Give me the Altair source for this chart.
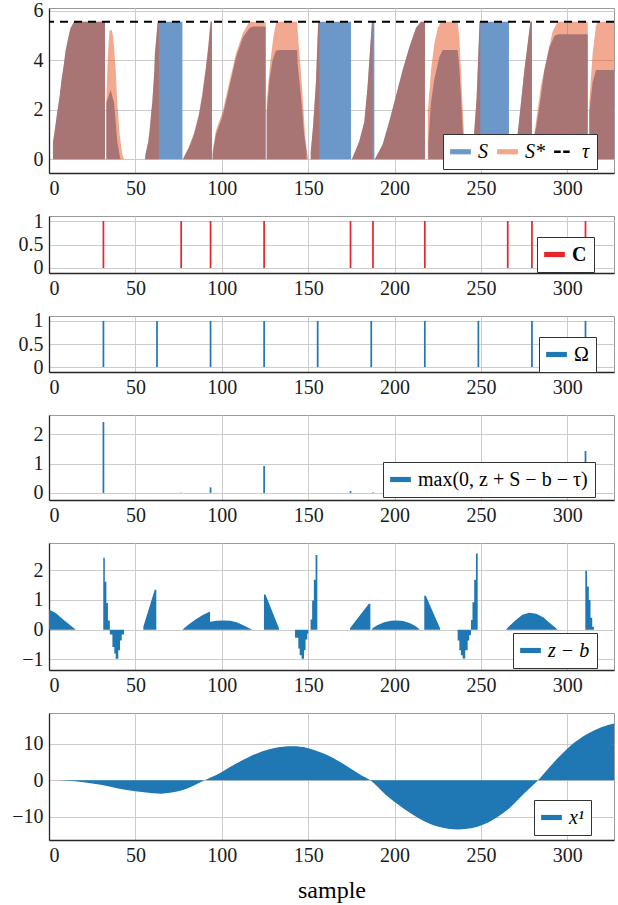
import altair as alt
import pandas as pd

FONT = "Liberation Serif"
X_MAX = 327.0
X_TICKS = [0, 50, 100, 150, 200, 250, 300]
TAU = [5.56]

BLUE_S = "#6b97c9"
SALMON = "#f3a68a"
ORANGE = "#e8531f"
TAB_BLUE = "#1f77b4"
RED = "#e6262b"

RECT = "M-1,-0.25H1V0.25H-1Z"
DASH = "M-1,-0.11H-0.37V0.11H-1Z M-0.13,-0.11H0.5V0.11H-0.13Z"

# ---- panel 1 : S and S* ----
S_POINTS = [
    (0, 0), (2.3, 0), (2.3, 0.67), (3.5, 1.25), (4.8, 1.91), (6.2, 2.56), (7.3, 3.22), (8.7, 3.87),
    (9.6, 4.39), (11.2, 4.92), (12.5, 5.31), (14.5, 5.56), (32.4, 5.56), (32.4, 0),
    (33.2, 0), (33.2, 2.3), (35.7, 2.8), (37.6, 2.3), (38.6, 1.52), (39.5, 0.73), (40.9, 0.14), (41.5, 0),
    (55.6, 0), (55.9, 0.21), (57.5, 0.73), (58.4, 1.26), (59.2, 1.91), (59.8, 2.3), (61.0, 3.61),
    (61.3, 4.26), (62.9, 5.56), (77.2, 5.56), (77.2, 0),
    (77.6, 0), (78.1, 0.08), (81.0, 0.47), (83.9, 0.99), (86.8, 1.78), (88.7, 2.56), (90.7, 3.61),
    (92.2, 4.52), (93.6, 5.56), (94.3, 5.56), (94.3, 0),
    (94.7, 0), (94.7, 0.2), (96.6, 1.0), (100.6, 1.78), (104.5, 2.96), (108.3, 4.13), (112.2, 4.92),
    (116.1, 5.31), (118.0, 5.37), (125.4, 5.37), (125.4, 0),
    (126.0, 0), (126.0, 1.91), (127.6, 3.22), (129.4, 4.0), (131.3, 4.39), (133.3, 4.42), (143.6, 4.42),
    (143.9, 3.87), (145.8, 2.56), (147.7, 0.99), (149.1, 0.3), (149.1, 0),
    (151.5, 0), (151.5, 0.3), (152.9, 1.4), (154.5, 3.1), (155.8, 5.56), (174.8, 5.56), (174.8, 0),
    (175.3, 0), (176.5, 0.2), (179.6, 0.73), (182.5, 1.52), (184.4, 2.96), (185.4, 4.0), (186.3, 4.92),
    (186.9, 5.56), (188.3, 5.56), (188.3, 0),
    (188.6, 0), (189.2, 0.08), (193.1, 0.6), (196.9, 1.52), (200.8, 2.56), (204.7, 3.61), (208.5, 4.52),
    (212.4, 5.31), (215.3, 5.56), (217.6, 5.56), (217.6, 0),
    (219.5, 0), (219.5, 0.73), (221.1, 2.3), (223.0, 3.22), (225.9, 4.13), (227.8, 4.42), (236.5, 4.42),
    (237.5, 3.74), (238.4, 2.56), (239.4, 1.26), (240.4, 0.3), (240.4, 0),
    (245.5, 0), (245.5, 0.5), (247.5, 2.5), (249.2, 5.56), (266.2, 5.56), (266.2, 0),
    (270.3, 0), (270.3, 0.3), (271.2, 1.0), (273.2, 2.3), (275.1, 3.6), (277.0, 4.65), (278.6, 5.56),
    (279.5, 5.56), (279.5, 0),
    (280.9, 0), (280.9, 1.0), (281.9, 1.26), (284.7, 2.56), (286.7, 3.61), (289.6, 4.52), (292.5, 4.98),
    (294.4, 5.05), (311.8, 5.05), (311.8, 0),
    (312.7, 0), (312.7, 1.9), (314.6, 3.1), (316.6, 3.61), (330, 3.61),
]

S_STAR_POINTS = [
    (0, 0), (2.3, 0), (2.3, 0.67), (3.5, 1.25), (4.8, 1.91), (6.2, 2.56), (7.3, 3.22), (8.7, 3.87),
    (9.6, 4.39), (11.2, 4.92), (12.5, 5.31), (14.5, 5.56), (32.4, 5.56), (32.4, 0),
    (33.2, 0), (33.2, 2.4), (34.0, 4.1), (35.0, 5.2), (36.2, 5.24), (37.0, 5.0), (37.8, 4.4), (38.6, 3.6),
    (39.5, 2.3), (40.9, 1.0), (42.4, 0.21), (43.4, 0),
    (55.6, 0), (55.9, 0.21), (57.5, 0.73), (58.4, 1.26), (59.2, 1.91), (59.8, 2.3), (61.0, 3.61),
    (61.3, 4.26), (62.9, 5.56), (63.6, 5.56), (63.6, 0),
    (77.6, 0), (78.1, 0.1), (81.0, 0.52), (83.9, 1.05), (86.8, 1.85), (88.7, 2.65), (90.7, 3.7),
    (92.2, 4.6), (93.4, 5.56), (94.3, 5.56), (94.3, 0),
    (94.7, 0), (94.7, 0.35), (96.6, 1.15), (100.6, 1.95), (104.5, 3.15), (108.3, 4.3), (112.2, 5.1),
    (115.9, 5.56), (125.4, 5.56), (125.4, 0),
    (126.0, 0), (126.0, 2.3), (128.0, 3.9), (130.0, 5.0), (131.5, 5.56), (143.6, 5.56), (144.5, 4.66),
    (146.4, 2.96), (148.2, 1.0), (149.3, 0.3), (150.1, 0),
    (151.5, 0), (151.5, 0.3), (152.9, 1.4), (154.5, 3.1), (155.8, 5.56), (156.4, 5.56), (156.4, 0),
    (175.3, 0), (176.5, 0.2), (179.6, 0.73), (182.5, 1.52), (184.4, 2.96), (185.4, 4.0), (186.3, 4.92),
    (186.9, 5.56), (187.3, 5.56), (187.3, 0),
    (188.6, 0), (189.2, 0.08), (193.1, 0.6), (196.9, 1.52), (200.8, 2.56), (204.7, 3.61), (208.5, 4.52),
    (212.4, 5.31), (215.3, 5.56), (217.6, 5.56), (217.6, 0),
    (219.2, 0), (219.2, 1.9), (221.1, 3.6), (223.0, 4.66), (225.0, 5.31), (226.9, 5.56), (236.5, 5.56),
    (237.5, 4.9), (238.4, 3.6), (239.4, 2.1), (240.4, 0.73), (241.3, 0.2), (241.3, 0),
    (245.5, 0), (245.5, 0.5), (247.5, 2.5), (249.2, 5.56), (249.6, 5.56), (249.6, 0),
    (270.3, 0), (270.3, 0.3), (271.2, 1.0), (273.2, 2.3), (275.1, 3.6), (277.0, 4.65), (278.6, 5.56),
    (279.5, 5.56), (279.5, 0),
    (280.9, 0), (280.9, 1.0), (284.7, 2.96), (288.6, 4.26), (291.5, 5.18), (294.4, 5.56), (311.8, 5.56),
    (311.8, 0),
    (312.7, 0), (312.7, 2.3), (314.6, 4.26), (316.6, 5.4), (317.5, 5.56), (330, 5.56),
]
S_LEGEND = ["S", "S*", "τ"]

# ---- panels 2-4 : spikes ----
C_SAMPLES = [31, 76, 93, 124, 174, 187, 217, 265, 279, 310]
C_VALUES = [1, 1, 1, 1, 1, 1, 1, 1, 1, 1]
OMEGA_SAMPLES = [31, 62, 93, 124, 155, 186, 217, 248, 279, 310]
OMEGA_VALUES = [1, 1, 1, 1, 1, 1, 1, 1, 1, 1]
EXCESS_SAMPLES = [31, 76, 93, 124, 174, 187, 217, 310]
EXCESS_VALUES = [2.42, 0.01, 0.19, 0.92, 0.06, 0.01, 1.05, 1.43]

# ---- panel 5 : z - b ----
ZB_POINTS = [
    (0, 0), (0, 0.68), (3.9, 0.56), (7.7, 0.37), (11.6, 0.18), (15.0, 0.02), (15.4, 0),
    (31.4, 0), (31.4, 2.42), (32.3, 2.42), (32.3, 1.61), (33.2, 1.61), (33.2, 0.9), (34.1, 0.9),
    (34.1, 0.31), (35.2, 0.31), (35.2, 0),
    (35.2, -0.16), (36.7, -0.16), (36.7, -0.58), (37.8, -0.58), (37.8, -0.8), (38.6, -0.8),
    (38.6, -0.98), (40.1, -0.98), (40.1, -0.69), (41.1, -0.69), (41.1, -0.36), (42.1, -0.36),
    (42.1, -0.16), (43.4, -0.16), (43.4, 0),
    (54.6, 0), (54.6, 0.1), (61.2, 1.34), (62.1, 1.34), (62.1, 0),
    (77.2, 0), (81.0, 0.18), (85.0, 0.35), (89.0, 0.49), (93.2, 0.61), (93.2, 0.27), (97.0, 0.3),
    (101.0, 0.31), (105.0, 0.3), (109.0, 0.24), (113.0, 0.13), (116.5, 0.03), (117.7, 0),
    (124.4, 0), (124.4, 1.18), (125.3, 1.18), (133.1, 0.05), (133.1, 0),
    (142.4, 0), (142.4, -0.27), (144.3, -0.27), (144.3, -0.63), (145.1, -0.63), (145.1, -0.86),
    (146.2, -0.86), (146.2, -0.98), (147.6, -0.98), (147.6, -0.69), (148.5, -0.69), (148.5, -0.33),
    (149.5, -0.33), (149.5, -0.13), (150.1, -0.13), (150.1, 0),
    (151.4, 0), (151.4, 0.34), (152.3, 0.34), (152.3, 0.98), (153.3, 0.98), (153.3, 1.68),
    (154.3, 1.68), (154.3, 2.51), (155.3, 2.51), (155.3, 0),
    (174.2, 0), (174.2, 0.05), (185.1, 0.87), (186.0, 0.87), (186.0, 0),
    (186.9, 0), (187.2, 0.05), (190.0, 0.15), (194.0, 0.25), (198.0, 0.3), (201.0, 0.31), (205.0, 0.29),
    (209.0, 0.22), (212.0, 0.12), (214.3, 0.02), (214.5, 0),
    (217.2, 0), (217.2, 1.14), (218.1, 1.14), (226.3, 0.05), (226.3, 0),
    (236.5, 0), (236.5, -0.36), (237.5, -0.36), (237.5, -0.69), (238.4, -0.69), (238.4, -0.86),
    (239.4, -0.86), (239.4, -0.97), (240.9, -0.97), (240.9, -0.69), (242.3, -0.69), (242.3, -0.36),
    (243.2, -0.36), (243.2, -0.19), (244.2, -0.19), (244.2, 0),
    (244.2, 0.33), (245.1, 0.33), (245.1, 0.92), (246.1, 0.92), (246.1, 1.68), (247.1, 1.68),
    (247.1, 2.56), (248.1, 2.56), (248.1, 0),
    (264.5, 0), (266.0, 0.1), (270.0, 0.32), (274.0, 0.5), (278.0, 0.57), (282.0, 0.54), (286.0, 0.42),
    (290.0, 0.22), (293.0, 0.07), (294.4, 0),
    (310.4, 0), (310.4, 1.98), (311.4, 1.98), (311.4, 1.45), (312.4, 1.45), (312.4, 1.0), (313.4, 1.0),
    (313.4, 0.4), (314.4, 0.4), (314.4, 0.1), (315.4, 0.1), (315.4, 0), (330, 0),
]

# ---- panel 6 : x^1 ----
X1_SAMPLES = [0, 10, 20, 30, 40, 50, 60, 65, 70, 77, 83, 90, 97, 100, 110, 120, 130, 141, 150, 160,
              170, 180, 186, 195, 205, 215, 225, 237, 245, 255, 265, 275, 283, 292, 302, 312, 320, 327]
X1_VALUES = [0, -0.1, -0.5, -1.2, -2.2, -3.0, -3.5, -3.65, -3.4, -2.7, -1.6, 0.0, 1.5, 2.3, 5.0, 7.3,
             8.8, 9.3, 8.8, 7.1, 4.6, 1.6, 0.0, -4.0, -7.6, -10.6, -12.6, -13.4, -13.0, -11.3, -8.2,
             -3.6, 0.0, 4.8, 9.5, 12.8, 14.6, 15.5]


def pts_df(points, key=None, series=None):
    df = pd.DataFrame(points, columns=["x", "y"])
    if key is not None:
        df[key] = series
    return df


def xenc(last=False):
    return alt.X(
        "x:Q",
        scale=alt.Scale(domain=[0, X_MAX], nice=False, zero=False),
        axis=alt.Axis(values=X_TICKS, format="d", labelOverlap=False,
                      title="sample" if last else None),
    )


def yenc(domain, values):
    return alt.Y(
        "y:Q",
        scale=alt.Scale(domain=domain, nice=False, zero=False),
        axis=alt.Axis(values=values, format=".1~f", labelOverlap=False, title=None),
    )


def leg(x, y, style="normal", weight="normal", direction="vertical"):
    return alt.Legend(title=None, orient="none", legendX=x, legendY=y, symbolType=RECT,
                      labelFontStyle=style, labelFontWeight=weight, direction=direction,
                      symbolOpacity=1)


# Panel 1
P1_DOM = [-0.556, 6.116]
P1_TICKS = [0, 2, 4, 6]
s_area = alt.Chart(pts_df(S_POINTS)).mark_area(color=BLUE_S, interpolate="linear", clip=True).encode(
    x=xenc(), y=yenc(P1_DOM, P1_TICKS), y2=alt.datum(0))
s_star_area = alt.Chart(pts_df(S_STAR_POINTS)).mark_area(
    color=ORANGE, opacity=0.5, interpolate="linear", clip=True).encode(
    x=xenc(), y=yenc(P1_DOM, P1_TICKS), y2=alt.datum(0))
tau_rule = alt.Chart(pd.DataFrame({"y": TAU})).mark_rule(
    color="black", strokeDash=[8, 6], strokeWidth=2.2).encode(y=yenc(P1_DOM, P1_TICKS))
leg1 = leg(394, 126, style="italic", direction="horizontal")
legend_helper = alt.Chart(pd.DataFrame({"k1": S_LEGEND})).transform_filter("false").mark_point(
    filled=True).encode(
    color=alt.Color("k1:N", scale=alt.Scale(domain=S_LEGEND, range=[BLUE_S, SALMON, "black"]),
                    legend=leg1),
    shape=alt.Shape("k1:N", scale=alt.Scale(domain=S_LEGEND, range=[RECT, RECT, DASH]),
                    legend=leg1),
)
p1 = alt.layer(s_area, s_star_area, tau_rule, legend_helper).properties(width=565, height=165)


def spikes(samples, values, key, name, color, domain, ticks, legend, height):
    df = pd.DataFrame({"x": samples, "y": values, key: name})
    return alt.Chart(df).transform_calculate(x2="datum.x + 1").mark_rect().encode(
        x=xenc(), x2="x2:Q", y=yenc(domain, ticks), y2=alt.datum(0),
        color=alt.Color(f"{key}:N", scale=alt.Scale(domain=[name], range=[color]), legend=legend),
    ).properties(width=565, height=height)


p2 = spikes(C_SAMPLES, C_VALUES, "k2", "C", RED, [-0.107, 1.107], [0, 0.5, 1],
            leg(488, 21, weight="bold"), 57)
p3 = spikes(OMEGA_SAMPLES, OMEGA_VALUES, "k3", "Ω", TAB_BLUE, [-0.107, 1.107], [0, 0.5, 1],
            leg(490, 21), 56)
p4 = spikes(EXCESS_SAMPLES, EXCESS_VALUES, "k4", "max(0, z + S − b − τ)", TAB_BLUE, [-0.242, 2.662],
            [0, 1, 2], leg(334, 47), 85)

p5 = alt.Chart(pts_df(ZB_POINTS, "k5", "z − b")).mark_area(interpolate="linear", clip=True).encode(
    x=xenc(), y=yenc([-1.356, 2.916], [-1, 0, 1, 2]), y2=alt.datum(0),
    color=alt.Color("k5:N", scale=alt.Scale(domain=["z − b"], range=[TAB_BLUE]),
                    legend=leg(464, 90, style="italic")),
).properties(width=565, height=127)

x1_df = pd.DataFrame({"x": X1_SAMPLES, "y": X1_VALUES, "k6": "x¹"})
p6 = alt.Chart(x1_df).mark_area(interpolate="monotone", clip=True).encode(
    x=xenc(last=True), y=yenc([-16.3, 18.4], [-10, 0, 10]), y2=alt.datum(0),
    color=alt.Color("k6:N", scale=alt.Scale(domain=["x¹"], range=[TAB_BLUE]),
                    legend=leg(485, 87, style="italic")),
).properties(width=565, height=127)

chart = alt.vconcat(p1, p2, p3, p4, p5, p6, spacing=43, bounds="flush").resolve_scale(
    color="independent", shape="independent", y="independent"
).resolve_legend(
    color="independent", shape="independent"
).properties(
    padding={"left": 11, "top": 0, "right": -1, "bottom": 0}
).configure_view(
    stroke="#9a9a9a", strokeWidth=1
).configure_axis(
    labelFont=FONT, labelFontSize=20, labelColor="#1a1a1a",
    gridColor="#cccccc", gridWidth=1,
    domainColor="#262626", domainWidth=1.3, ticks=False,
    titleFont=FONT, titleFontSize=24, titleFontWeight="normal", titleColor="black",
    labelPadding=5,
).configure_axisY(
    labelPadding=6
).configure_axisX(
    titlePadding=13
).configure_legend(
    labelFont=FONT, labelFontSize=20, labelColor="black", labelLimit=400,
    fillColor="white", strokeColor="#333333", padding=7, symbolSize=430,
    labelOffset=7, columnPadding=9, symbolStrokeWidth=0, cornerRadius=0,
)

chart.save("out.html", embed_options={"renderer": "svg", "actions": False})
